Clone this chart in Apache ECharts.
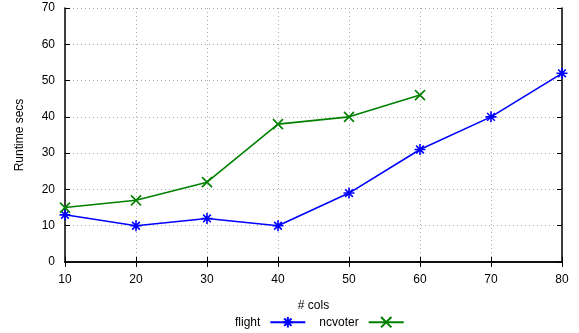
<!DOCTYPE html>
<html>
<head>
<meta charset="utf-8">
<script src="https://cdn.jsdelivr.net/npm/echarts@6/dist/echarts.min.js"></script>
<style>
  html, body { margin: 0; padding: 0; background: #fff; }
  #chart { width: 579px; height: 333px; }
</style>
</head>
<body>
<div id="chart"></div>
<script>
const flightCols = [10, 20, 30, 40, 50, 60, 70, 80];
const flightSecs = [13, 10, 12, 10, 19, 31, 40, 52];
const ncvoterCols = [10, 20, 30, 40, 50, 60];
const ncvoterSecs = [15, 17, 22, 38, 40, 46];

const font = "'Liberation Sans', Arial, sans-serif";
const asterisk = "path://M0,5L10,5M5,0L5,10M1.5,1.5L8.5,8.5M8.5,1.5L1.5,8.5";
const cross = "path://M0,0L10,10M10,0L0,10";

const pairs = (xs, ys) => xs.map((x, i) => [x, ys[i]]);

const frameLine = { color: "#000", width: 1.5 };
const innerTick = { show: true, inside: true, length: 5, lineStyle: { color: "#000", width: 1 } };
const dotted = { lineStyle: { color: "#aaa", type: [1, 3], width: 1 } };

const chart = echarts.init(document.getElementById("chart"));
chart.setOption({
  animation: false,
  textStyle: { fontFamily: font },
  grid: { left: 65, right: 17, top: 8, bottom: 71, show: false },
  legend: {
    top: 311,
    left: 230,
    align: "right",
    itemWidth: 35,
    itemHeight: 13,
    itemGap: 13,
    textStyle: { fontFamily: font, fontSize: 12, color: "#000", padding: [0, 5, 0, 0] },
    data: ["flight", "ncvoter"],
  },
  xAxis: [
    {
      type: "value",
      min: 10,
      max: 80,
      interval: 10,
      name: "# cols",
      nameLocation: "middle",
      nameGap: 38,
      nameTextStyle: { fontFamily: font, fontSize: 12, color: "#000" },
      axisLine: { lineStyle: frameLine },
      axisTick: innerTick,
      axisLabel: { margin: 12, fontSize: 12, color: "#000", fontFamily: font },
      splitLine: dotted,
    },
    {
      type: "value",
      position: "top",
      min: 10,
      max: 80,
      interval: 10,
      axisLine: { show: true, lineStyle: frameLine },
      axisTick: innerTick,
      axisLabel: { show: false },
      splitLine: { show: false },
    },
  ],
  yAxis: [
    {
      type: "value",
      min: 0,
      max: 70,
      interval: 10,
      name: "Runtime secs",
      nameLocation: "middle",
      nameGap: 39,
      nameTextStyle: { fontFamily: font, fontSize: 12, color: "#000" },
      axisLine: { show: true, lineStyle: frameLine },
      axisTick: innerTick,
      axisLabel: { margin: 10, fontSize: 12, color: "#000", fontFamily: font },
      splitLine: dotted,
    },
    {
      type: "value",
      position: "right",
      min: 0,
      max: 70,
      interval: 10,
      axisLine: { show: true, lineStyle: frameLine },
      axisTick: innerTick,
      axisLabel: { show: false },
      splitLine: { show: false },
    },
  ],
  series: [
    {
      name: "flight",
      type: "line",
      data: pairs(flightCols, flightSecs),
      symbol: asterisk,
      symbolSize: 11,
      showSymbol: true,
      color: "#0000ff",
      lineStyle: { width: 1.6, color: "#0000ff" },
      itemStyle: { color: "#0000ff", borderColor: "#0000ff", borderWidth: 1.6 },
    },
    {
      name: "ncvoter",
      type: "line",
      data: pairs(ncvoterCols, ncvoterSecs),
      symbol: cross,
      symbolSize: 10,
      showSymbol: true,
      color: "#008000",
      lineStyle: { width: 1.6, color: "#008000" },
      itemStyle: { color: "#008000", borderColor: "#008000", borderWidth: 1.6 },
    },
  ],
});
</script>
</body>
</html>
